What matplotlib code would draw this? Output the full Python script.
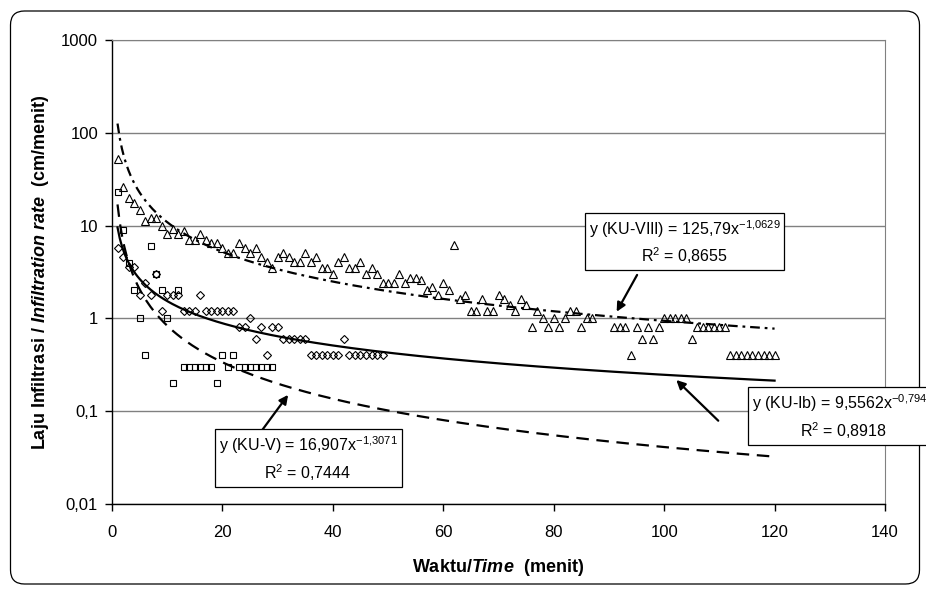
import matplotlib
matplotlib.use('Agg')
import matplotlib.pyplot as plt
import numpy as np
from matplotlib.patches import FancyBboxPatch
from matplotlib.transforms import IdentityTransform
from matplotlib.ticker import NullLocator

plt.rcParams['font.family'] = ['Liberation Sans', 'DejaVu Sans']
plt.rcParams['mathtext.fontset'] = 'custom'
plt.rcParams['mathtext.rm'] = 'Liberation Sans'
plt.rcParams['mathtext.it'] = 'Liberation Sans:italic'
plt.rcParams['mathtext.bf'] = 'Liberation Sans:bold'
plt.rcParams['mathtext.bfit'] = 'Liberation Sans:bold:italic'
plt.rcParams['lines.scale_dashes'] = False

# KU-VIII (segitiga)
x_viii = list(range(1, 88)) + list(range(91, 121))
y_viii = [52, 26, 20, 17.5, 14.7, 11.1, 12, 12, 9.9, 8.1,
          9.3, 8.1, 8.8, 7.0, 7.0, 8.1, 7.0, 6.5, 6.5, 5.8,
          5.1, 5.1, 6.5, 5.8, 5.1, 5.8, 4.6, 4.05, 3.5, 4.6,
          5.1, 4.6, 4.05, 4.05, 5.1, 4.05, 4.6, 3.5, 3.5, 3.0,
          4.05, 4.6, 3.5, 3.5, 4.05, 3.0, 3.5, 3.0, 2.4, 2.4,
          2.4, 3.0, 2.4, 2.7, 2.7, 2.6, 2.0, 2.2, 1.8, 2.4,
          2.0, 6.2, 1.6, 1.8, 1.2, 1.2, 1.6, 1.2, 1.2, 1.8,
          1.6, 1.4, 1.2, 1.6, 1.4, 0.8, 1.2, 1.0, 0.8, 1.0,
          0.8, 1.0, 1.2, 1.2, 0.8, 1.0, 1.0,
          0.8, 0.8, 0.8, 0.4, 0.8, 0.6, 0.8, 0.6, 0.8, 1.0,
          1.0, 1.0, 1.0, 1.0, 0.6, 0.8, 0.8, 0.8, 0.8, 0.8,
          0.8, 0.4, 0.4, 0.4, 0.4, 0.4, 0.4, 0.4, 0.4, 0.4]

# KU-Ib (belah ketupat)
x_ib = list(range(1, 50))
y_ib = [5.8, 4.6, 3.6, 3.6, 1.8, 2.4, 1.8, 3.0, 1.2, 1.8,
        1.8, 1.8, 1.2, 1.2, 1.2, 1.8, 1.2, 1.2, 1.2, 1.2,
        1.2, 1.2, 0.8, 0.8, 1.0, 0.6, 0.8, 0.4, 0.8, 0.8,
        0.6, 0.6, 0.6, 0.6, 0.6, 0.4, 0.4, 0.4, 0.4, 0.4,
        0.4, 0.6, 0.4, 0.4, 0.4, 0.4, 0.4, 0.4, 0.4]

# KU-V (kotak)
x_v = list(range(1, 30))
y_v = [23, 9, 4, 2.0, 1.0, 0.4, 6, 3.0, 2.0, 1.0,
       0.2, 2.0, 0.3, 0.3, 0.3, 0.3, 0.3, 0.3, 0.2, 0.4,
       0.3, 0.4, 0.3, 0.3, 0.3, 0.3, 0.3, 0.3, 0.3]

# koefisien trendline power y = a x^b (dari label)
fit_viii = (125.79, -1.0629)
fit_ib = (9.5562, -0.7940)
fit_v = (16.907, -1.3071)
t_fit = np.linspace(1, 120, 300)

yticks = [0.01, 0.1, 1, 10, 100, 1000]
ytick_labels = ['0,01', '0,1', '1', '10', '100', '1000']
xticks = [0, 20, 40, 60, 80, 100, 120, 140]

fig = plt.figure(figsize=(9.26, 5.9), dpi=100)
ax = fig.add_axes([112 / 926, 86 / 590, 773 / 926, 464 / 590])

border = FancyBboxPatch((10.5, 6), 909, 573, boxstyle='round,pad=0,rounding_size=14',
                        transform=IdentityTransform(), fc='none', ec='black', lw=0.9, zorder=-1)
fig.add_artist(border)

ax.plot(x_viii, y_viii, ls='none', marker='^', ms=6.2, mfc='none', mec='black', mew=0.8, zorder=2)
ax.plot(x_ib, y_ib, ls='none', marker='D', ms=4.4, mfc='none', mec='black', mew=0.8, zorder=2)
ax.plot(x_v, y_v, ls='none', marker='s', ms=5.0, mfc='none', mec='black', mew=0.8, zorder=2)

ax.plot(t_fit, fit_viii[0] * t_fit ** fit_viii[1], color='black', lw=1.6,
        dashes=(7, 3.5, 2, 3.5), zorder=3)
ax.plot(t_fit, fit_ib[0] * t_fit ** fit_ib[1], color='black', lw=1.6, zorder=3)
ax.plot(t_fit, fit_v[0] * t_fit ** fit_v[1], color='black', lw=1.6,
        dashes=(9, 5.5), zorder=3)

ax.set_yscale('log')
ax.set_ylim(0.01, 1000)
ax.set_xlim(0, 140)
ax.set_yticks(yticks)
ax.set_yticklabels(ytick_labels)
ax.yaxis.set_minor_locator(NullLocator())
ax.set_xticks(xticks)
ax.set_xticklabels([str(v) for v in xticks])
ax.tick_params(axis='both', direction='out', length=5, width=1, labelsize=12, colors='black')
ax.tick_params(axis='x', pad=10)
ax.tick_params(axis='y', pad=5)
ax.grid(axis='y', which='major', color='#808080', lw=1.0)
ax.set_axisbelow(True)
for s in ['top', 'right']:
    ax.spines[s].set_color('#808080')
for s in ['left', 'bottom']:
    ax.spines[s].set_color('black')
    ax.spines[s].set_linewidth(1.0)

ax.set_xlabel(r'Waktu/$\mathbfit{Time}$  (menit)', fontsize=13, fontweight='bold')
ax.xaxis.set_label_coords(0.5, -0.136)
ax.xaxis.label.set_va('center')
ax.set_ylabel(r'Laju Infiltrasi / $\mathbfit{Infiltration\ rate}$  (cm/menit)', fontsize=13,
              fontweight='bold')
ax.yaxis.set_label_coords(-0.0925, 0.5)
ax.yaxis.label.set_va('center')

box = dict(boxstyle='square,pad=0.25', fc='white', ec='black', lw=0.9)
ax.text(0.7406, 0.5647, 'y (KU-VIII) = 125,79x$^{-1{,}0629}$\nR$^2$ = 0,8655',
        transform=ax.transAxes, ha='center', va='center', multialignment='center',
        fontsize=11.5, linespacing=1.35, bbox=box, zorder=5)
ax.text(0.9457, 0.1886, 'y (KU-Ib) = 9,5562x$^{-0{,}7940}$\nR$^2$ = 0,8918',
        transform=ax.transAxes, ha='center', va='center', multialignment='center',
        fontsize=11.5, linespacing=1.35, bbox=box, zorder=5)
ax.text(0.2536, 0.098, 'y (KU-V) = 16,907x$^{-1{,}3071}$\nR$^2$ = 0,7444',
        transform=ax.transAxes, ha='center', va='center', multialignment='center',
        fontsize=11.5, linespacing=1.35, bbox=box, zorder=5)

arrow = dict(arrowstyle='-|>', color='black', lw=1.6, mutation_scale=13, shrinkA=0, shrinkB=0)
ax.annotate('', xy=(91.4, 1.18), xytext=(95.1, 2.94), arrowprops=arrow, zorder=4)
ax.annotate('', xy=(102.2, 0.217), xytext=(109.8, 0.079), arrowprops=arrow, zorder=4)
ax.annotate('', xy=(31.9, 0.15), xytext=(27.2, 0.0626), arrowprops=arrow, zorder=4)

plt.savefig('out.png', dpi=100)
plt.close()
